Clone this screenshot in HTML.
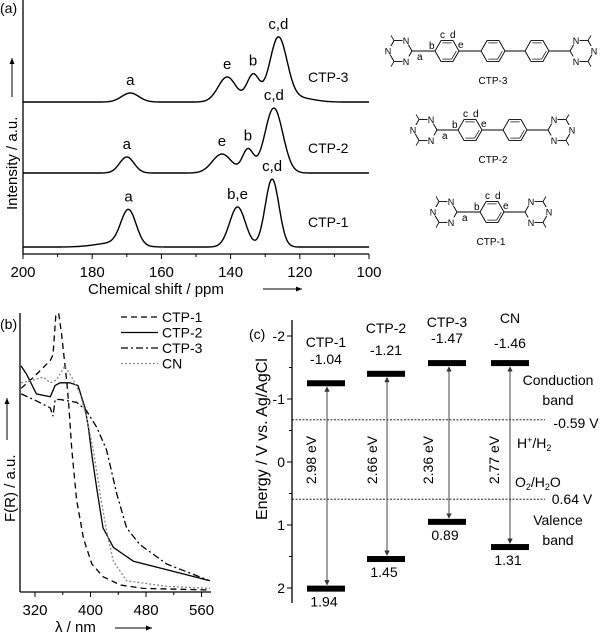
<!DOCTYPE html>
<html><head><meta charset="utf-8">
<style>
body{margin:0;background:#fff;}
svg{display:block;font-family:"Liberation Sans",sans-serif;}
</style></head>
<body>
<svg id="fig" width="600" height="633" viewBox="0 0 600 633" xmlns="http://www.w3.org/2000/svg">
<g id="pa"></g>
<g id="ps"></g>
<g id="pb"></g>
<g id="pc"></g>
</svg>
<script>
// ---- Panel (a) data ----
const nmrSamples = ["CTP-3","CTP-2","CTP-1"];
const nmrBaselines = [0, 71, 145];
const nmrPeaksPos = [[169,141,133.5,126.2,120],[170,142.5,135,127.5],[169.5,138,128,174]];
const nmrPeaksH = [[9,25,27,64,4],[16,19,23,65],[35,40,68,4]];
const nmrPeaksW = [[2.5,2.6,1.8,2.5,4],[2.1,2.8,1.6,2.6],[2.2,2.3,2.0,5]];
const nmrLabels = [[["a",169],["e",141],["b",133.5],["c,d",126.2]],[["a",170],["e",142.5],["b",135],["c,d",127.5]],[["a",169.5],["b,e",138],["c,d",128]]];
const nmrTicks = [200,180,160,140,120,100];

// ---- Panel (b) data ----
const uvNames = ["CTP-1","CTP-2","CTP-3","CN"];
const uvL1 = [300,318,342,346,350,354,358,366,369,373,380,390,402,418,443,476,572];
const uvF1 = [0.73,0.77,0.83,0.85,0.99,1.0,0.93,0.75,0.66,0.51,0.33,0.19,0.10,0.055,0.025,0.013,0.007];
const uvL2 = [300,308,322,342,349,356,370,382,392,397,402,409,418,433,462,510,572];
const uvF2 = [0.81,0.78,0.71,0.70,0.74,0.75,0.75,0.74,0.66,0.59,0.49,0.37,0.23,0.16,0.11,0.08,0.04];
const uvL3 = [300,318,342,346,349,356,380,394,409,423,438,452,471,510,572];
const uvF3 = [0.71,0.69,0.66,0.63,0.69,0.69,0.68,0.65,0.59,0.51,0.35,0.23,0.17,0.10,0.04];
const uvL4 = [300,318,332,342,351,363,373,385,394,404,414,423,433,452,510,572];
const uvF4 = [0.75,0.76,0.77,0.75,0.76,0.81,0.77,0.71,0.63,0.51,0.35,0.22,0.11,0.04,0.02,0.013];
const uvTicks = [320,400,480,560];

// ---- Panel (c) data ----
const bandNames = ["CTP-1","CTP-2","CTP-3","CN"];
const cbDrawn = [-1.25,-1.40,-1.57,-1.57];
const vbDrawn = [2.01,1.54,0.95,1.35];
const cbText = ["-1.04","-1.21","-1.47","-1.46"];
const vbText = ["1.94","1.45","0.89","1.31"];
const gapText = ["2.98 eV","2.66 eV","2.36 eV","2.77 eV"];
const eTicks = [-2,-1,0,1,2];
const redoxLevels = [-0.67,0.59];

const NS="http://www.w3.org/2000/svg";
function mk(parent,tag,attrs,txt){const e=document.createElementNS(NS,tag);for(const k in attrs)e.setAttribute(k,attrs[k]);if(txt!==undefined)e.textContent=txt;parent.appendChild(e);return e;}

// ===== Panel A =====
const pa=document.getElementById('pa');
const ax=p=>23+(200-p)*3.46;
const base0=102;
const ay=(v,i)=>base0+nmrBaselines[i]-v;
mk(pa,'text',{x:0,y:13,'font-size':14},'(a)');
let l=mk(pa,'line',{x1:23,y1:0,x2:23,y2:254,stroke:'#000','stroke-width':1.3});

l=mk(pa,'line',{x1:23,y1:254,x2:369,y2:254,stroke:'#000','stroke-width':1.3});

for(let p=200;p>=100;p-=10){const t=mk(pa,'line',{x1:ax(p),y1:254,x2:ax(p),y2:p%20==0?259:257,stroke:'#000'});}
nmrTicks.forEach(p=>{const t=mk(pa,'text',{x:ax(p),y:277,'font-size':15,'text-anchor':'middle'},String(p));});
let tt=mk(pa,'text',{x:88,y:294,'font-size':15},'Chemical shift  / ppm');
mk(pa,'line',{x1:263,y1:289,x2:302,y2:289,stroke:'#000'});
mk(pa,'path',{d:'M302,289 l-6,-2.5 l0,5 z',fill:'#000'});
tt=mk(pa,'text',{transform:'translate(17,210) rotate(-90)','font-size':15},'Intensity / a.u.');
mk(pa,'line',{x1:12,y1:97,x2:12,y2:58,stroke:'#000'});
mk(pa,'path',{d:'M12,58 l-2.5,6 l5,0 z',fill:'#000'});
nmrSamples.forEach((s,i)=>{
  let d='';
  for(let p=200;p>=100;p-=0.25){let v=0;nmrPeaksPos[i].forEach((c,k)=>{v+=nmrPeaksH[i][k]*Math.exp(-0.5*Math.pow((p-c)/nmrPeaksW[i][k],2));});
    d+=(d?'L':'M')+ax(p).toFixed(1)+','+ay(v,i).toFixed(1);}
  const pth=mk(pa,'path',{d:d,fill:'none',stroke:'#000','stroke-width':1.4});
  
  const lb=mk(pa,'text',{x:308,y:ay(0,i)-20,'font-size':14},s);
  nmrLabels[i].forEach(([t,p])=>{let v=0;nmrPeaksPos[i].forEach((c,k)=>{v+=nmrPeaksH[i][k]*Math.exp(-0.5*Math.pow((p-c)/nmrPeaksW[i][k],2));});
    const e=mk(pa,'text',{x:ax(p),y:ay(v,i)-8,'font-size':15,'text-anchor':'middle'},t);});
});

// ===== Structures =====
const ps=document.getElementById('ps');
function hexa(cx,cy,r,tri){
  const pts=[];for(let k=0;k<6;k++){const a=Math.PI/3*k;pts.push([cx+r*Math.cos(a),cy+r*Math.sin(a)]);}
  const g=mk(ps,'polygon',{points:pts.map(p=>p.map(v=>v.toFixed(1)).join(',')).join(' '),fill:'none',stroke:'#000','stroke-width':0.9});
  
  if(tri){
    const nPos=tri=='L'?[1,3,5]:[0,2,4];
    nPos.forEach(k=>{mk(ps,'rect',{x:pts[k][0]-3.5,y:pts[k][1]-5,width:7,height:9,fill:'#fff'});mk(ps,'text',{x:pts[k][0],y:pts[k][1]+3.5,'font-size':9,'text-anchor':'middle',fill:'#000'},'N');});
    const cPos=tri=='L'?[2,4]:[1,5];
    cPos.forEach(k=>{const dx=pts[k][0]-cx,dy=pts[k][1]-cy;mk(ps,'line',{x1:pts[k][0],y1:pts[k][1],x2:pts[k][0]+dx*0.5,y2:pts[k][1]+dy*0.5,stroke:'#000','stroke-width':0.8});});
  } else {
    [[1,2],[4,5],[0,1]].forEach(([a,b])=>{const s=0.78;mk(ps,'line',{x1:cx+(pts[a][0]-cx)*s,y1:cy+(pts[a][1]-cy)*s,x2:cx+(pts[b][0]-cx)*s,y2:cy+(pts[b][1]-cy)*s,stroke:'#000','stroke-width':0.7});});
  }
  return pts;
}
function chain(y,xs,label,lx){
  const r=12;
  xs.forEach((x,i)=>{hexa(x,y,r,i==0?'L':(i==xs.length-1?'R':null));
    if(i<xs.length-1)mk(ps,'line',{x1:x+r,y1:y,x2:xs[i+1]-r,y2:y,stroke:'#000','stroke-width':0.9});});
  const x0=xs[0],x1=xs[1];
  mk(ps,'text',{x:x0+r+5,y:y+9,'font-size':10},'a');
  mk(ps,'text',{x:x1-r-6,y:y-2,'font-size':10},'b');
  mk(ps,'text',{x:x1-7,y:y-13,'font-size':10},'c');
  mk(ps,'text',{x:x1+3,y:y-13,'font-size':10},'d');
  mk(ps,'text',{x:x1+r-1,y:y-3,'font-size':10},'e');
  const t=mk(ps,'text',{x:lx,y:y+33,'font-size':10,'text-anchor':'middle'},label);
  
}
chain(51,[400,447,493,537,582],'CTP-3',493);
chain(130,[425,470,515,560],'CTP-2',493);
chain(212,[445,492,537],'CTP-1',491);

// ===== Panel B =====
const pb=document.getElementById('pb');
const bx=lam=>35+(lam-320)*0.694;
const by=f=>592-f*279;
mk(pb,'text',{x:0,y:329,'font-size':14},'(b)');
l=mk(pb,'line',{x1:20,y1:313,x2:20,y2:592,stroke:'#000','stroke-width':1.3});
l=mk(pb,'line',{x1:20,y1:592,x2:211,y2:592,stroke:'#000','stroke-width':1.3});
for(let lam=320;lam<=560;lam+=40){const t=mk(pb,'line',{x1:bx(lam),y1:592,x2:bx(lam),y2:lam%80==0?597:595,stroke:'#000'});}
uvTicks.forEach(v=>{const t=mk(pb,'text',{x:bx(v),y:615,'font-size':15,'text-anchor':'middle'},String(v));});
tt=mk(pb,'text',{x:55,y:632,'font-size':15},'λ / nm');
mk(pb,'line',{x1:115,y1:628,x2:152,y2:628,stroke:'#000'});mk(pb,'path',{d:'M152,628 l-6,-2.5 l0,5 z',fill:'#000'});
tt=mk(pb,'text',{transform:'translate(15,522) rotate(-90)','font-size':15},'F(R) / a.u.');
mk(pb,'line',{x1:7,y1:440,x2:7,y2:398,stroke:'#000'});mk(pb,'path',{d:'M7,398 l-2.5,6 l5,0 z',fill:'#000'});
const uvL=[uvL1,uvL2,uvL3,uvL4],uvF=[uvF1,uvF2,uvF3,uvF4];
const uvDash=['6,4','none','7,3,2,3','2,2'],uvCol=['#000','#000','#000','#888'];
uvNames.forEach((n,i)=>{
  const d=uvL[i].map((lam,k)=>(k?'L':'M')+bx(lam).toFixed(1)+','+by(uvF[i][k]).toFixed(1)).join('');
  const p=mk(pb,'path',{d:d,fill:'none',stroke:uvCol[i],'stroke-width':1.3,'stroke-dasharray':uvDash[i]});
  
  const ly=317+i*15.5;
  const g=mk(pb,'g',{});
  mk(g,'line',{x1:121,y1:ly,x2:158,y2:ly,stroke:uvCol[i],'stroke-width':1.3,'stroke-dasharray':uvDash[i]});
  mk(g,'text',{x:162,y:ly+5,'font-size':14},n);
});

// ===== Panel C =====
const pc=document.getElementById('pc');
const cy=e=>462+e*63;
mk(pc,'text',{x:249,y:339,'font-size':14},'(c)');
l=mk(pc,'line',{x1:292,y1:320,x2:292,y2:603,stroke:'#000','stroke-width':1.3});
for(let e=-2;e<=2;e+=0.5){const t=mk(pc,'line',{x1:292,y1:cy(e),x2:Number.isInteger(e)?287:289,y2:cy(e),stroke:'#000'});}
eTicks.forEach(e=>{const t=mk(pc,'text',{x:285,y:cy(e)+5,'font-size':14,'text-anchor':'end'},String(e));});
tt=mk(pc,'text',{transform:'translate(267,520) rotate(-90)','font-size':16},'Energy / V vs. Ag/AgCl');
redoxLevels.forEach(e=>{const t=mk(pc,'line',{x1:292,y1:cy(e),x2:545,y2:cy(e),stroke:'#000','stroke-width':0.8,'stroke-dasharray':'2,1.5'});});
const barX=[307,367,428,491],bw=38,arrX=[327,387,449,510],gapX=[311,372,428,494];
const nameY=[347,333,327,323],cbY=[364,355,343,348];
const defs=mk(pc,'defs',{});
const mkr=mk(defs,'marker',{id:'ah',markerWidth:6,markerHeight:6,refX:5,refY:3,orient:'auto-start-reverse'});
mk(mkr,'path',{d:'M0,0 L6,3 L0,6 z',fill:'#333'});
bandNames.forEach((n,i)=>{
  const cx=barX[i]+bw/2;
  let r=mk(pc,'rect',{x:barX[i],y:cy(cbDrawn[i])-3,width:bw,height:6,fill:'#000'});
  r=mk(pc,'rect',{x:barX[i],y:cy(vbDrawn[i])-3,width:bw,height:6,fill:'#000'});
  const a=mk(pc,'line',{x1:arrX[i],y1:cy(cbDrawn[i])+4,x2:arrX[i],y2:cy(vbDrawn[i])-4,stroke:'#333','stroke-width':0.9,'marker-start':'url(#ah)','marker-end':'url(#ah)'});
  
  let t=mk(pc,'text',{x:cx,y:nameY[i],'font-size':14,'text-anchor':'middle'},n);
  t=mk(pc,'text',{x:cx,y:cbY[i],'font-size':14,'text-anchor':'middle'},cbText[i]);
  t=mk(pc,'text',{x:cx-2,y:cy(vbDrawn[i])+18,'font-size':14,'text-anchor':'middle'},vbText[i]);
  t=mk(pc,'text',{transform:`translate(${gapX[i]+5},460) rotate(-90)`,'font-size':14,'text-anchor':'middle'},gapText[i]);
});
[['Conduction',558,385],['band',558,405],['-0.59 V',576,428],['Valence',558,525],['band',558,545],['0.64 V',572,504]].forEach(([s,x,y])=>{const t=mk(pc,'text',{x:x,y:y,'font-size':14,'text-anchor':'middle'},s);});
let h=mk(pc,'text',{x:517,y:448,'font-size':14},'H');
mk(h,'tspan',{dy:-5,'font-size':9},'+');mk(h,'tspan',{dy:5},'/H');mk(h,'tspan',{dy:3,'font-size':9},'2');
h=mk(pc,'text',{x:515,y:487,'font-size':14},'O');
mk(h,'tspan',{dy:3,'font-size':9},'2');mk(h,'tspan',{dy:-3},'/H');mk(h,'tspan',{dy:3,'font-size':9},'2');mk(h,'tspan',{dy:-3},'O');
</script>
</body></html>
